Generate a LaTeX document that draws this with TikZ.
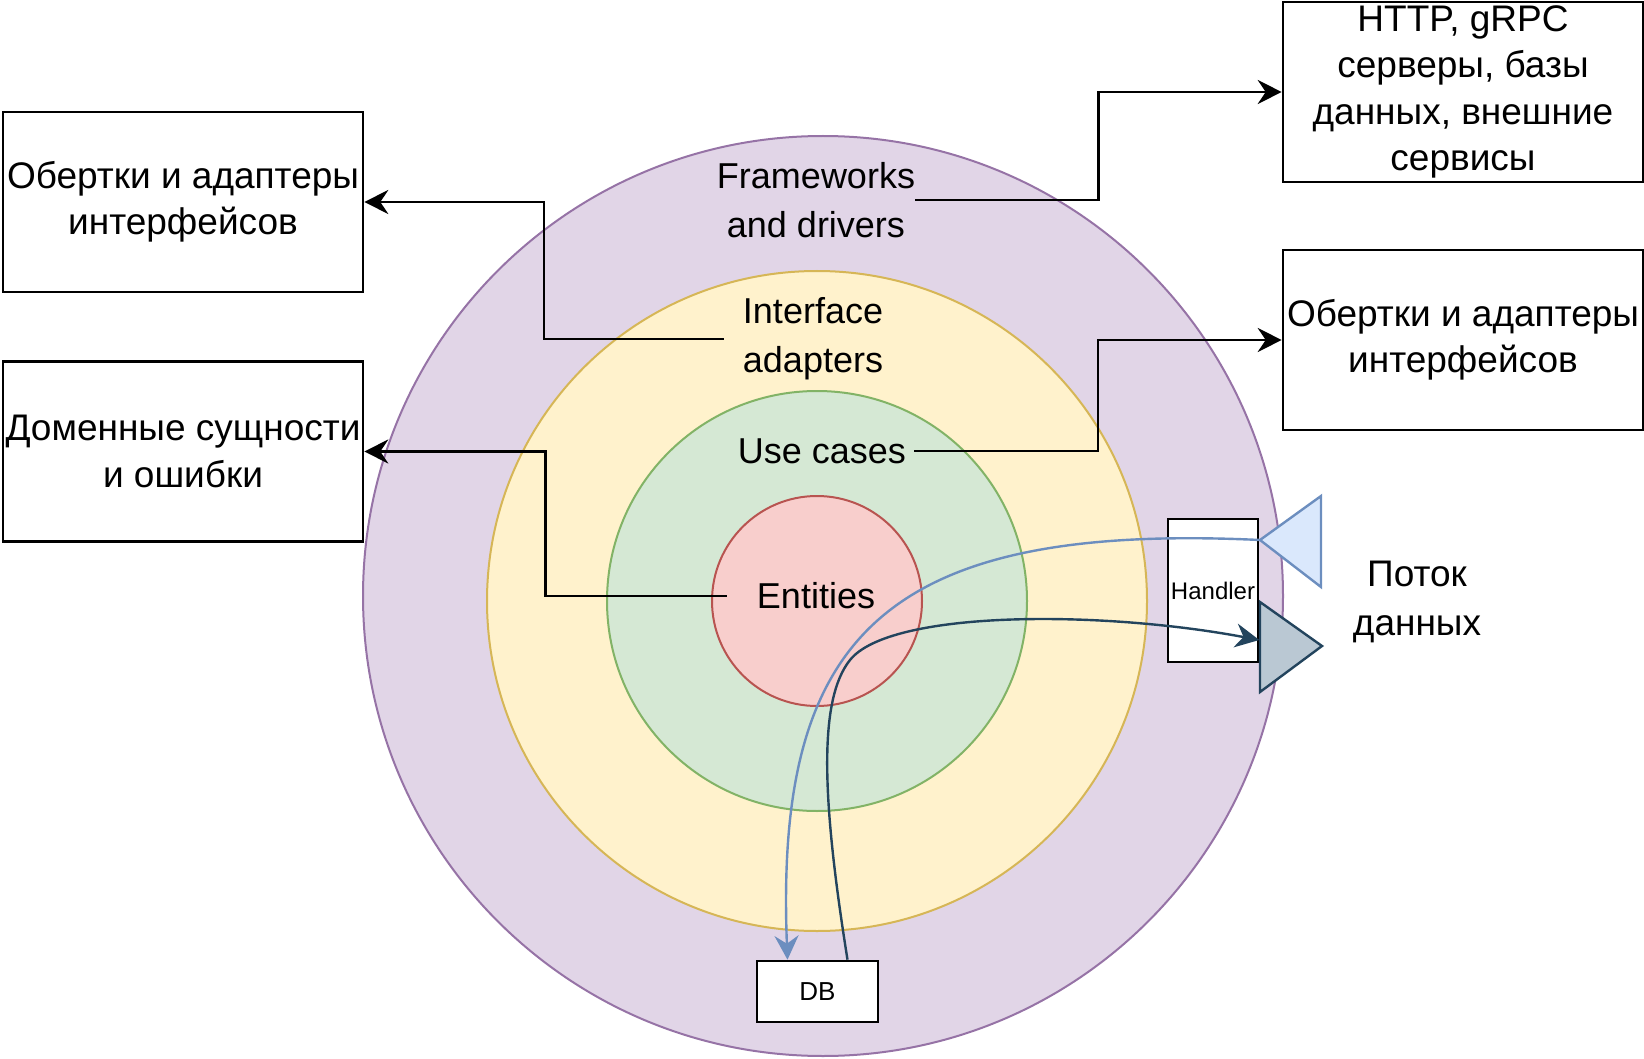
\documentclass[tikz,border=0pt]{standalone}
\usepackage{fontspec}
\setmainfont{Liberation Sans}
\usetikzlibrary{arrows.meta,calc}
\definecolor{fwfill}{HTML}{E1D5E7}
\definecolor{fwline}{HTML}{9673A6}
\definecolor{iafill}{HTML}{FFF2CC}
\definecolor{ialine}{HTML}{D6B656}
\definecolor{ucfill}{HTML}{D5E8D4}
\definecolor{ucline}{HTML}{82B366}
\definecolor{entfill}{HTML}{F8CECC}
\definecolor{entline}{HTML}{B85450}
\definecolor{infill}{HTML}{DAE8FC}
\definecolor{inline}{HTML}{6C8EBF}
\definecolor{outfill}{HTML}{BAC8D3}
\definecolor{outline}{HTML}{23445D}

\begin{document}
\begin{tikzpicture}[x=0.5pt,y=-0.5pt,
    box/.style={draw=black, line width=1.3pt, fill=white, inner sep=0pt, align=center,
      minimum width=180pt, minimum height=90pt, font=\fontsize{18.5}{23.2}\selectfont},
    lbl/.style={align=center, inner sep=0pt, font=\fontsize{18}{24.5}\selectfont},
    smallbox/.style={draw=black, line width=1.3pt, fill=white, inner sep=0pt,
      font=\fontsize{12}{14}\selectfont},
    conn/.style={line width=1.2pt, -{Stealth[length=12pt,width=12pt,inset=4pt]}},
    flow/.style={line width=1.2pt, -{Stealth[length=12pt,width=12pt,inset=4pt]}}]
    \useasboundingbox (0,0) rectangle (1644,1059);

    \draw[fill=fwfill, draw=fwline, line width=1pt] (823,596) circle[radius=230pt];
    \draw[fill=iafill, draw=ialine, line width=1pt] (817,601) circle[radius=165pt];
    \draw[fill=ucfill, draw=ucline, line width=1pt] (817,601) circle[radius=105pt];
    \draw[fill=entfill, draw=entline, line width=1pt] (817,601) circle[radius=52.5pt];

    \node[lbl] (fw) at (816,200) {Frameworks\\and drivers};
    \node[lbl, minimum width=89pt] (ia) at (813,339) {Interface\\adapters};
    \node[lbl, inner xsep=4pt] (uc) at (822,451) {Use cases};
    \node[lbl, minimum width=89pt] (ent) at (816,596) {Entities};

    \node[box] (srv) at (1463,92) {HTTP, gRPC\\серверы, базы\\данных, внешние\\сервисы};
    \node[box] (rwrap) at (1463,340) {Обертки и адаптеры\\интерфейсов};
    \node[box] (lwrap) at (183,202) {Обертки и адаптеры\\интерфейсов};
    \node[box] (dom) at (183,451.5) {Доменные сущности\\и ошибки};

    \draw[conn] (fw.east) -| ($(fw.east)!0.5!(srv.west)$) |- (srv.west);
    \draw[conn] (uc.east) -| ($(uc.east)!0.5!(rwrap.west)$) |- (rwrap.west);
    \draw[conn] (ia.west) -| ($(ia.west)!0.5!(lwrap.east)$) |- (lwrap.east);
    \draw[conn] (ent.west) -| ($(ent.west)!0.5!(dom.east)$) |- (dom.east);

    \node[smallbox, minimum width=45pt, minimum height=71.5pt] (handler) at (1213,590.5) {Handler};
    \node[smallbox, minimum width=60.5pt, minimum height=30.5pt, font=\fontsize{13}{15}\selectfont] (db) at (817.5,991.5) {DB};

    \draw[fill=infill, draw=inline, line width=1.2pt] (1321,496) -- (1321,587) -- (1260,540) -- cycle;
    \draw[fill=outfill, draw=outline, line width=1.2pt] (1260,602) -- (1260,692) -- (1322,646) -- cycle;
    \coordinate (intip) at (1260,540);

    \node[lbl, font=\fontsize{18.5}{24.5}\selectfont] (stream) at (1417,602) {Поток\\данных};

    \draw[flow, inline] (intip) .. controls (880,522) and (775,640) .. ([xshift=-15pt]db.north);
    \draw[flow, outline] ([xshift=15pt]db.north) .. controls (822,800) and (818,700) .. (850,660)
        .. controls (890,610) and (1100,610) .. ([yshift=-24.75pt]handler.east);
\end{tikzpicture}
\end{document}
